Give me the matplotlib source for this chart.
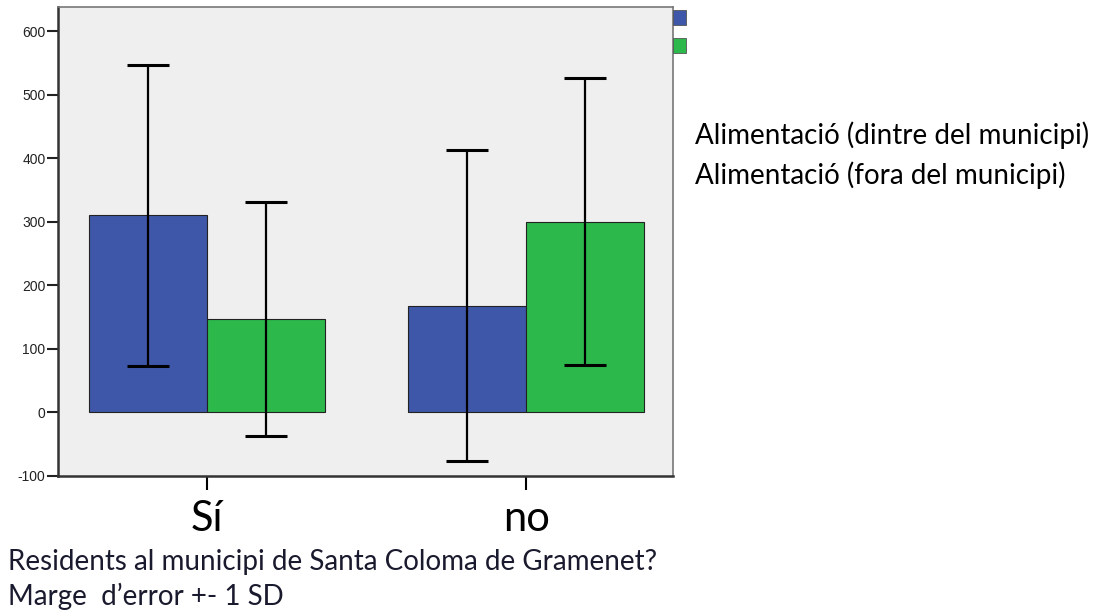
import numpy as np
import matplotlib.pyplot as plt

plt.rcParams['axes.unicode_minus'] = False

categories = ['Sí', 'no']
series_names = ['Alimentació (dintre del municipi)', 'Alimentació (fora del municipi)']
means_dintre = [310, 168]
sd_dintre = [237, 245]
means_fora = [147, 300]
sd_fora = [184, 226]
colors = ['#3F57A9', '#2DB84C']

fig = plt.figure(figsize=(10.98, 6.11), dpi=100)
ax = fig.add_axes([0.0528, 0.221, 0.5602, 0.7675])
ax.set_facecolor('#EFEFEF')

x = np.arange(len(categories))
w = 0.37
ax.bar(x - w / 2, means_dintre, w, color=colors[0], edgecolor='#222222', linewidth=0.8, zorder=2)
ax.bar(x + w / 2, means_fora, w, color=colors[1], edgecolor='#222222', linewidth=0.8, zorder=2)
ax.errorbar(x - w / 2, means_dintre, yerr=sd_dintre, fmt='none', ecolor='black',
            elinewidth=1.6, capsize=15, capthick=2.2, zorder=3)
ax.errorbar(x + w / 2, means_fora, yerr=sd_fora, fmt='none', ecolor='black',
            elinewidth=1.6, capsize=15, capthick=2.2, zorder=3)

ax.set_xlim(-0.467, 1.46)
ax.set_ylim(-100, 638)
ax.set_yticks(range(-100, 601, 100))
ax.set_yticklabels([str(v) for v in range(-100, 601, 100)], fontfamily='Liberation Sans')
ax.tick_params(axis='y', labelsize=10, length=8, width=1.5, pad=1, colors='#222222')
ax.set_xticks(x)
ax.set_xticklabels(categories, fontsize=30, fontfamily='Lato')
ax.tick_params(axis='x', length=10, width=1.5, pad=7)
for s in ['left', 'bottom']:
    ax.spines[s].set_linewidth(1.8)
    ax.spines[s].set_color('#333333')
for s in ['top', 'right']:
    ax.spines[s].set_linewidth(1.2)
    ax.spines[s].set_color('#777777')

# clipped legend swatches at the top right of the frame
for i, c in enumerate(colors):
    fig.patches.append(plt.Rectangle((673 / 1098, 1 - (25 + 28 * i) / 611), 13 / 1098, 15 / 611,
                                     transform=fig.transFigure, facecolor=c,
                                     edgecolor='#555555', linewidth=0.6))
fig.text(695 / 1098, 1 - 135 / 611, series_names[0], fontsize=20, fontfamily='Lato', va='center')
fig.text(695 / 1098, 1 - 175 / 611, series_names[1], fontsize=20, fontfamily='Lato', va='center')

fig.text(8 / 1098, 1 - 562 / 611, 'Residents al municipi de Santa Coloma de Gramenet?',
         fontsize=20, fontfamily='Lato', va='center', color='#1a1a2e')
fig.text(8 / 1098, 1 - 596 / 611, 'Marge  d’error +- 1 SD',
         fontsize=20, fontfamily='Lato', va='center', color='#1a1a2e')

fig.savefig('out.png', dpi=100)
